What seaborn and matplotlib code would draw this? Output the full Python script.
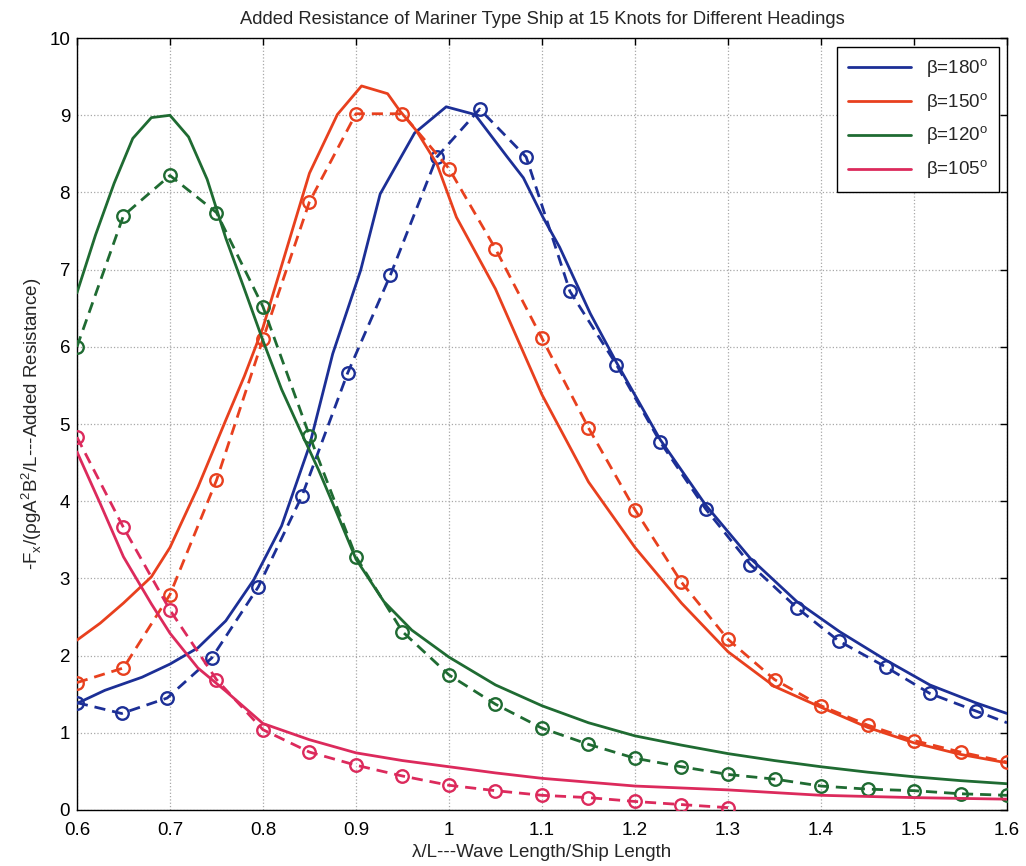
import numpy as np
import pandas as pd
import matplotlib
matplotlib.use("Agg")
import matplotlib.pyplot as plt
import seaborn as sns
from matplotlib.ticker import FuncFormatter

# ---------------- data ----------------
blue_calc_x = [0.60, 0.63, 0.67, 0.70, 0.73, 0.76, 0.79, 0.82, 0.85, 0.875, 0.905, 0.926, 0.94, 0.963,
               0.997, 1.028, 1.062, 1.080, 1.101, 1.119, 1.152, 1.18, 1.227, 1.276, 1.324, 1.374,
               1.42, 1.47, 1.517, 1.566, 1.60]
blue_calc_y = [1.38, 1.55, 1.72, 1.89, 2.10, 2.45, 2.98, 3.68, 4.72, 5.91, 6.99, 7.98, 8.28, 8.77,
               9.11, 9.01, 8.47, 8.19, 7.68, 7.29, 6.43, 5.80, 4.80, 3.95, 3.26, 2.70,
               2.31, 1.94, 1.62, 1.39, 1.25]

blue_exp_x = [0.600, 0.648, 0.697, 0.745, 0.795, 0.842, 0.891, 0.937, 0.987, 1.033, 1.083,
              1.130, 1.180, 1.227, 1.276, 1.324, 1.374, 1.419, 1.470, 1.517, 1.567, 1.60]
blue_exp_y = [1.39, 1.25, 1.45, 1.97, 2.89, 4.07, 5.66, 6.93, 8.46, 9.08, 8.46,
              6.72, 5.77, 4.77, 3.90, 3.18, 2.62, 2.19, 1.85, 1.51, 1.28, 1.13]

red_calc_x = [0.60, 0.625, 0.65, 0.68, 0.70, 0.73, 0.76, 0.78, 0.80, 0.825, 0.85, 0.88, 0.906,
              0.934, 0.947, 0.965, 0.987, 1.008, 1.05, 1.10, 1.15, 1.20, 1.25, 1.30, 1.35,
              1.40, 1.45, 1.50, 1.55, 1.60]
red_calc_y = [2.20, 2.42, 2.68, 3.02, 3.40, 4.18, 5.05, 5.62, 6.25, 7.25, 8.25, 9.01, 9.38,
              9.28, 9.06, 8.80, 8.37, 7.68, 6.75, 5.38, 4.25, 3.40, 2.68, 2.05, 1.60,
              1.33, 1.07, 0.87, 0.72, 0.61]

red_exp_x = [0.60, 0.65, 0.70, 0.75, 0.80, 0.85, 0.90, 0.95, 1.00, 1.05, 1.10, 1.15, 1.20,
             1.25, 1.30, 1.35, 1.40, 1.45, 1.50, 1.55, 1.60]
red_exp_y = [1.65, 1.84, 2.79, 4.27, 6.10, 7.88, 9.02, 9.02, 8.31, 7.27, 6.11, 4.95, 3.89,
             2.95, 2.21, 1.69, 1.35, 1.10, 0.90, 0.75, 0.62]

green_calc_x = [0.60, 0.62, 0.64, 0.66, 0.68, 0.70, 0.72, 0.74, 0.76, 0.78, 0.80, 0.82, 0.84,
                0.86, 0.88, 0.90, 0.93, 0.96, 1.00, 1.05, 1.10, 1.15, 1.20, 1.25, 1.30, 1.35,
                1.40, 1.45, 1.50, 1.55, 1.60]
green_calc_y = [6.70, 7.45, 8.12, 8.70, 8.97, 9.00, 8.72, 8.17, 7.41, 6.75, 6.08, 5.45, 4.92,
                4.40, 3.83, 3.25, 2.70, 2.33, 1.98, 1.62, 1.35, 1.13, 0.96, 0.84, 0.73, 0.64,
                0.56, 0.49, 0.43, 0.38, 0.34]

green_exp_x = [0.60, 0.65, 0.70, 0.75, 0.80, 0.85, 0.90, 0.95, 1.00, 1.05, 1.10, 1.15, 1.20,
               1.25, 1.30, 1.35, 1.40, 1.45, 1.50, 1.55, 1.60]
green_exp_y = [6.00, 7.70, 8.22, 7.74, 6.52, 4.85, 3.28, 2.31, 1.75, 1.37, 1.06, 0.85, 0.67,
               0.56, 0.46, 0.40, 0.31, 0.27, 0.25, 0.21, 0.19]

pink_calc_x = [0.60, 0.625, 0.65, 0.68, 0.70, 0.73, 0.76, 0.80, 0.85, 0.90, 0.95, 1.00, 1.05,
               1.10, 1.15, 1.20, 1.30, 1.40, 1.50, 1.60]
pink_calc_y = [4.64, 3.97, 3.28, 2.67, 2.29, 1.84, 1.54, 1.12, 0.91, 0.74, 0.64, 0.56, 0.48,
               0.41, 0.36, 0.31, 0.26, 0.19, 0.16, 0.14]

pink_exp_x = [0.60, 0.65, 0.70, 0.75, 0.80, 0.85, 0.90, 0.95, 1.00, 1.05, 1.10, 1.15, 1.20,
              1.25, 1.30]
pink_exp_y = [4.83, 3.66, 2.59, 1.69, 1.04, 0.75, 0.58, 0.44, 0.32, 0.25, 0.19, 0.16, 0.11,
              0.07, 0.03]

labels = ["β=180$^\\mathregular{o}$", "β=150$^\\mathregular{o}$",
          "β=120$^\\mathregular{o}$", "β=105$^\\mathregular{o}$"]
colors = ["#1c2f96", "#e8401e", "#1f6b32", "#dc2a5c"]

title = "Added Resistance of Mariner Type Ship at 15 Knots for Different Headings"
xlabel = "λ/L---Wave Length/Ship Length"
ylabel = "-F$_\\mathregular{x}$/(ρgA$^\\mathregular{2}$B$^\\mathregular{2}$/L---Added Resistance)"
xticks = [0.6, 0.7, 0.8, 0.9, 1.0, 1.1, 1.2, 1.3, 1.4, 1.5, 1.6]
yticks = [0, 1, 2, 3, 4, 5, 6, 7, 8, 9, 10]

# ---------------- plot ----------------
sns.set_theme(style="white")
plt.rcParams["font.family"] = ["Liberation Sans", "DejaVu Sans"]
plt.rcParams["mathtext.fontset"] = "custom"
plt.rcParams["mathtext.rm"] = "Liberation Sans"

fig = plt.figure(figsize=(10.26, 8.66), dpi=100)
ax = fig.add_axes([0.075, 0.0647, 0.9065, 0.8913])

calc = [(blue_calc_x, blue_calc_y), (red_calc_x, red_calc_y),
        (green_calc_x, green_calc_y), (pink_calc_x, pink_calc_y)]
exp = [(blue_exp_x, blue_exp_y), (red_exp_x, red_exp_y),
       (green_exp_x, green_exp_y), (pink_exp_x, pink_exp_y)]

for i, ((cx, cy), (ex, ey)) in enumerate(zip(calc, exp)):
    c = colors[i]
    dfc = pd.DataFrame({"x": cx, "y": cy})
    sns.lineplot(data=dfc, x="x", y="y", ax=ax, color=c, lw=2.0, sort=False,
                 estimator=None, label=labels[i], zorder=3)
    dfe = pd.DataFrame({"x": ex, "y": ey})
    nmark = len(ex) - 1 if i == 0 else len(ex)
    sns.lineplot(data=dfe, x="x", y="y", ax=ax, color=c, lw=2.0, sort=False,
                 estimator=None, linestyle=(0, (4, 2.5)), marker="o", markersize=9,
                 markerfacecolor="none", markeredgecolor=c, markeredgewidth=1.7,
                 markevery=list(range(nmark)), label="_nolegend_", zorder=3)

ax.set_xlim(0.6, 1.6)
ax.set_ylim(0, 10)
ax.set_xticks(xticks)
ax.set_yticks(yticks)
ax.xaxis.set_major_formatter(FuncFormatter(lambda v, p: ("%g" % round(v, 2))))
ax.yaxis.set_major_formatter(FuncFormatter(lambda v, p: ("%g" % round(v, 2))))
ax.tick_params(direction="in", top=True, right=True, length=5, width=1,
               labelsize=13.5, colors="black")
ax.tick_params(axis="x", pad=9)
ax.tick_params(axis="y", pad=5)
ax.grid(True, color="#a8a8a8", linestyle=":", linewidth=0.9)
for s in ax.spines.values():
    s.set_visible(True)
    s.set_color("black")
    s.set_linewidth(1.0)

ax.set_title(title, fontsize=13.2, pad=10)
ax.set_xlabel(xlabel, fontsize=13.5, labelpad=3)
ax.set_ylabel(ylabel, fontsize=13.5, labelpad=4)

leg = ax.legend(loc="upper right", fontsize=13.5, frameon=True, fancybox=False,
                edgecolor="black", framealpha=1, handlelength=3.4, borderpad=0.55,
                labelspacing=0.6, borderaxespad=0.45)
leg.get_frame().set_linewidth(1.0)

fig.savefig("out.png", dpi=100)
